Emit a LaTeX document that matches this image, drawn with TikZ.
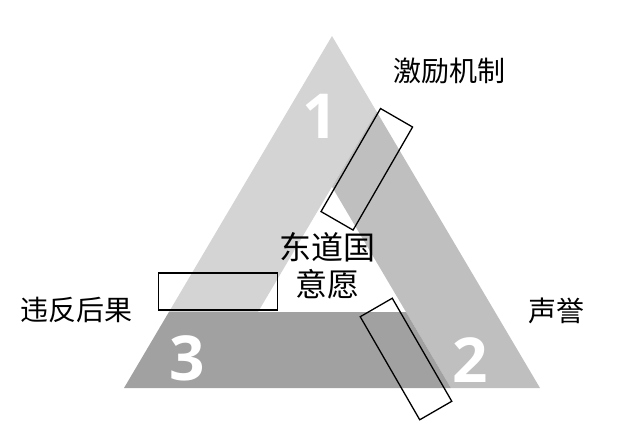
\documentclass[tikz,border=0pt]{standalone}
\usepackage{fontspec}
\newfontfamily\cjk{Noto Sans CJK SC}
\newfontfamily\numfont{Open Sans}
\definecolor{lightband}{gray}{0.83}
\definecolor{midband}{gray}{0.75}
\definecolor{darkband}{gray}{0.63}
\begin{document}
\begin{tikzpicture}[x=1pt,y=-1pt,
  frame/.style={draw=black, line width=1.3pt, minimum width=119pt, minimum height=37pt, inner sep=0pt},
  num/.style={text=white, font=\numfont\bfseries\fontsize{62}{62}\selectfont, inner sep=0pt},
  lab/.style={font=\cjk\fontsize{28}{30}\selectfont, inner sep=0pt},
  core/.style={font=\cjk\fontsize{32}{37}\selectfont, inner sep=0pt, align=center}]
\useasboundingbox (0,0) rectangle (623,439);
% outer triangle and band points
\coordinate (A) at (332,36);
\coordinate (B) at (124,388);
\coordinate (C) at (540,388);
\coordinate (P1) at (376.5,111.4);
\coordinate (T) at (332,186.8);
\coordinate (Q1) at (258,312);
\coordinate (S) at (406,312);
\coordinate (R2) at (450.9,388);
\coordinate (U) at (168.9,312);
% bands
\fill[lightband] (A) -- (P1) -- (Q1) -- (U) -- cycle;
\fill[midband] (P1) -- (C) -- (R2) -- (T) -- cycle;
\fill[darkband] (U) -- (S) -- (R2) -- (B) -- cycle;
% numbers
\node[num] (n1) at (320,116) {1};
\node[num] (n2) at (470,360) {2};
\node[num] (n3) at (187,358) {3};
% frames
\node[frame, rotate=60] (f1) at (366.8,169.3) {};
\node[frame] (f2) at (218,291.5) {};
\node[frame, rotate=-60] (f3) at (406,359) {};
% labels
\node[lab] (l1) at (449,71) {激励机制};
\node[lab] (l2) at (76,310) {违反后果};
\node[lab] (l3) at (556,311) {声誉};
\node[core] (c) at (327,266) {东道国\\意愿};
\end{tikzpicture}
\end{document}
